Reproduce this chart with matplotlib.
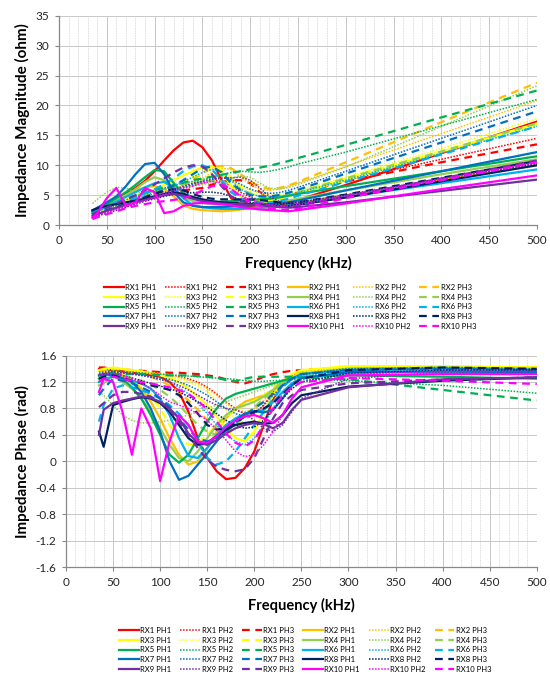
import numpy as np
import matplotlib
matplotlib.use('Agg')
import matplotlib.pyplot as plt
from matplotlib.ticker import MultipleLocator

plt.rcParams['font.family'] = ['Lato', 'DejaVu Sans']

# frequency points (kHz), shared by every series
freq = [35, 40, 50, 60, 70, 80, 90, 100, 110, 120, 130, 140, 150, 160, 170,
        180, 190, 200, 210, 220, 230, 240, 250, 300, 400, 500]

rx_names = ['RX1', 'RX2', 'RX3', 'RX4', 'RX5', 'RX6', 'RX7', 'RX8', 'RX9', 'RX10']
ph_names = ['PH1', 'PH2', 'PH3']
rx_colors = ['#FF0000', '#FFC000', '#FFFF00', '#92D050', '#00B050',
             '#00B0F0', '#0070C0', '#002060', '#7030A0', '#FF00FF']

# impedance magnitude (ohm), one list per RX/PH
mag = {
    'RX1 PH1': [2.3, 2.6, 3.5, 4.5, 5.2, 6.2, 7.4, 9.0, 10.8, 12.5, 13.8, 14.1, 13.0, 10.8, 7.5, 4.5, 3.3, 3.0, 2.9, 3.0, 3.2, 3.6, 4.2, 6.7, 12.0, 17.3],
    'RX1 PH2': [1.8, 2.1, 2.7, 3.2, 3.7, 4.2, 4.7, 5.2, 5.6, 6.0, 6.3, 6.6, 7.0, 7.5, 7.3, 6.5, 5.5, 4.7, 4.2, 4.0, 4.3, 4.8, 5.3, 7.5, 11.0, 14.5],
    'RX1 PH3': [1.7, 2.0, 2.5, 3.0, 3.5, 4.0, 4.4, 4.8, 5.2, 5.5, 5.8, 6.0, 6.2, 6.8, 7.2, 7.5, 7.5, 7.0, 5.5, 4.5, 4.5, 5.0, 5.4, 7.3, 10.5, 13.5],
    'RX2 PH1': [2.0, 2.4, 3.3, 4.2, 5.0, 5.8, 6.3, 6.5, 6.0, 4.8, 3.3, 2.7, 2.5, 2.4, 2.3, 2.4, 2.6, 2.8, 2.9, 3.0, 3.1, 3.3, 3.6, 5.0, 7.5, 10.0],
    'RX2 PH2': [1.6, 1.9, 2.4, 2.9, 3.4, 3.9, 4.4, 4.9, 5.4, 5.9, 6.4, 7.0, 7.8, 8.8, 9.5, 9.3, 8.0, 6.8, 6.0, 5.8, 6.0, 6.5, 7.0, 9.8, 15.3, 20.8],
    'RX2 PH3': [1.7, 2.0, 2.6, 3.1, 3.6, 4.1, 4.6, 5.1, 5.6, 6.2, 6.8, 7.6, 8.6, 9.6, 9.9, 9.5, 8.5, 7.3, 6.5, 6.0, 6.2, 6.6, 7.2, 10.5, 17.2, 23.8],
    'RX3 PH1': [1.8, 2.2, 2.9, 3.6, 4.2, 4.8, 5.4, 6.0, 6.7, 7.5, 8.3, 9.0, 9.6, 9.8, 9.0, 6.5, 4.8, 4.2, 4.0, 4.0, 4.3, 4.8, 5.3, 7.5, 12.2, 17.0],
    'RX3 PH2': [1.6, 1.9, 2.5, 3.0, 3.5, 4.0, 4.5, 5.0, 5.5, 6.0, 6.6, 7.2, 7.8, 8.3, 8.3, 7.5, 6.5, 5.8, 5.3, 5.0, 5.0, 5.3, 5.8, 8.0, 12.8, 17.8],
    'RX3 PH3': [1.7, 2.0, 2.6, 3.2, 3.7, 4.3, 4.9, 5.5, 6.0, 6.6, 7.3, 8.0, 8.8, 9.5, 9.3, 8.0, 6.3, 5.3, 4.8, 4.6, 4.7, 5.0, 5.5, 7.8, 12.3, 16.8],
    'RX4 PH1': [2.0, 2.4, 3.3, 4.2, 5.0, 6.0, 7.2, 8.0, 7.5, 6.0, 4.7, 4.0, 3.7, 3.5, 3.4, 3.4, 3.5, 3.6, 3.7, 3.8, 3.9, 4.1, 4.4, 5.8, 8.5, 11.0],
    'RX4 PH2': [3.6, 4.3, 5.5, 6.3, 6.2, 5.5, 5.3, 5.6, 6.0, 6.2, 6.3, 6.5, 6.8, 7.0, 7.3, 7.8, 8.2, 8.0, 7.0, 6.2, 6.0, 6.3, 6.8, 9.7, 16.5, 23.3],
    'RX4 PH3': [1.8, 2.1, 2.8, 3.4, 4.0, 4.6, 5.2, 5.8, 6.3, 6.6, 6.8, 7.0, 7.2, 7.4, 7.3, 6.8, 6.0, 5.3, 4.8, 4.6, 4.7, 5.0, 5.5, 7.8, 12.3, 17.0],
    'RX5 PH1': [2.2, 2.6, 3.5, 4.5, 5.5, 6.7, 8.0, 9.2, 9.0, 7.0, 5.3, 4.5, 4.1, 3.9, 3.9, 4.0, 4.1, 4.2, 4.3, 4.4, 4.6, 4.9, 5.2, 6.5, 9.0, 11.5],
    'RX5 PH2': [2.0, 2.4, 3.0, 3.6, 4.2, 4.8, 5.3, 5.8, 6.2, 6.6, 7.0, 7.3, 7.6, 8.0, 8.4, 8.8, 9.0, 8.9, 8.8, 9.0, 9.3, 9.7, 10.2, 12.2, 16.6, 21.0],
    'RX5 PH3': [2.1, 2.5, 3.1, 3.7, 4.3, 4.9, 5.4, 5.9, 6.3, 6.7, 7.1, 7.5, 7.8, 8.1, 8.4, 8.7, 9.0, 9.3, 9.6, 9.9, 10.3, 10.7, 11.2, 13.4, 18.0, 22.5],
    'RX6 PH1': [1.9, 2.3, 3.1, 3.9, 4.7, 5.5, 6.3, 7.0, 7.2, 6.3, 4.5, 3.3, 3.0, 2.8, 2.7, 2.7, 2.7, 2.8, 2.9, 3.0, 3.1, 3.3, 3.5, 4.7, 7.0, 9.3],
    'RX6 PH2': [1.7, 2.0, 2.6, 3.2, 3.8, 4.3, 4.9, 5.5, 6.0, 6.6, 7.3, 8.0, 8.8, 9.3, 9.0, 7.5, 6.0, 5.2, 4.8, 4.7, 4.8, 5.0, 5.4, 7.5, 12.0, 16.5],
    'RX6 PH3': [1.8, 2.1, 2.8, 3.4, 4.0, 4.6, 5.3, 6.0, 6.8, 7.8, 9.0, 9.8, 10.0, 9.3, 7.5, 5.5, 4.5, 4.0, 3.8, 3.8, 4.0, 4.4, 4.9, 7.2, 11.8, 16.5],
    'RX7 PH1': [2.4, 2.9, 3.8, 4.8, 6.5, 8.5, 10.2, 10.4, 8.5, 5.5, 3.8, 3.2, 3.0, 3.0, 3.0, 3.1, 3.2, 3.3, 3.4, 3.5, 3.6, 3.8, 4.1, 5.8, 9.0, 12.2],
    'RX7 PH2': [1.5, 1.8, 2.3, 2.8, 3.3, 3.8, 4.3, 4.8, 5.3, 5.8, 6.3, 6.8, 7.3, 7.8, 8.0, 7.6, 6.8, 6.0, 5.5, 5.3, 5.4, 5.8, 6.3, 9.0, 14.5, 20.0],
    'RX7 PH3': [1.6, 1.9, 2.5, 3.0, 3.6, 4.1, 4.7, 5.3, 5.9, 6.6, 7.5, 8.5, 9.5, 9.8, 8.8, 7.0, 5.8, 5.0, 4.8, 4.8, 5.0, 5.4, 5.9, 8.6, 13.8, 19.0],
    'RX8 PH1': [2.5, 2.8, 3.2, 3.5, 3.8, 4.1, 4.4, 4.8, 5.2, 5.5, 5.2, 4.7, 4.3, 4.0, 3.8, 3.7, 3.6, 3.5, 3.4, 3.3, 3.2, 3.2, 3.4, 4.6, 7.3, 10.0],
    'RX8 PH2': [1.2, 1.5, 2.0, 2.5, 3.0, 3.5, 4.0, 4.4, 4.8, 5.1, 5.3, 5.4, 5.5, 5.5, 5.3, 4.8, 4.2, 3.8, 3.6, 3.5, 3.5, 3.6, 3.8, 5.0, 7.7, 10.3],
    'RX8 PH3': [1.6, 1.9, 2.4, 2.9, 3.5, 4.0, 4.6, 5.2, 5.7, 6.0, 5.8, 5.2, 4.7, 4.4, 4.3, 4.3, 4.3, 4.3, 4.2, 4.0, 3.8, 3.7, 3.8, 5.1, 7.9, 10.7],
    'RX9 PH1': [1.5, 1.8, 2.4, 2.9, 3.4, 3.8, 4.2, 4.6, 5.0, 5.2, 4.9, 4.4, 4.0, 3.8, 3.6, 3.5, 3.5, 3.4, 3.3, 3.2, 3.0, 2.9, 3.0, 3.8, 5.7, 7.6],
    'RX9 PH2': [1.4, 1.7, 2.2, 2.7, 3.2, 3.7, 4.2, 4.8, 5.4, 6.0, 6.5, 7.0, 7.3, 7.6, 7.8, 7.9, 8.0, 7.5, 6.2, 4.8, 4.0, 3.7, 3.8, 5.0, 7.7, 10.5],
    'RX9 PH3': [1.8, 2.2, 2.9, 3.6, 4.3, 5.0, 5.8, 6.8, 7.8, 8.8, 9.6, 10.0, 9.8, 8.5, 6.5, 4.8, 4.0, 3.7, 3.5, 3.3, 3.2, 3.1, 3.2, 4.8, 7.8, 10.8],
    'RX10 PH1': [1.2, 2.0, 4.5, 6.2, 3.2, 3.8, 6.2, 5.5, 2.0, 2.3, 3.2, 3.6, 3.7, 3.6, 3.5, 3.3, 3.0, 2.8, 2.6, 2.5, 2.4, 2.3, 2.5, 3.6, 6.0, 8.3],
    'RX10 PH2': [1.3, 1.6, 2.1, 2.6, 3.1, 3.6, 4.1, 4.6, 5.1, 5.6, 6.1, 6.5, 7.0, 7.3, 7.0, 6.0, 5.0, 4.3, 3.8, 3.4, 3.2, 3.2, 3.4, 4.9, 7.7, 10.5],
    'RX10 PH3': [1.0, 1.3, 1.8, 2.3, 2.8, 3.2, 3.5, 3.8, 4.0, 4.2, 4.5, 5.0, 5.8, 6.5, 6.7, 6.0, 4.8, 3.8, 3.2, 2.8, 2.6, 2.5, 2.7, 4.5, 7.5, 10.5],
}

# impedance phase (rad)
phase = {
    'RX1 PH1': [1.40, 1.40, 1.38, 1.36, 1.34, 1.32, 1.30, 1.28, 1.20, 1.05, 0.75, 0.35, 0.05, -0.15, -0.27, -0.25, -0.10, 0.15, 0.55, 0.95, 1.15, 1.25, 1.32, 1.40, 1.42, 1.40],
    'RX1 PH2': [1.40, 1.40, 1.38, 1.37, 1.35, 1.34, 1.32, 1.31, 1.30, 1.28, 1.25, 1.20, 1.12, 1.02, 0.90, 0.80, 0.72, 0.72, 0.85, 1.05, 1.20, 1.30, 1.36, 1.42, 1.42, 1.41],
    'RX1 PH3': [1.42, 1.42, 1.40, 1.39, 1.38, 1.37, 1.36, 1.35, 1.34, 1.34, 1.33, 1.32, 1.30, 1.28, 1.24, 1.20, 1.18, 1.22, 1.28, 1.32, 1.35, 1.37, 1.38, 1.42, 1.42, 1.40],
    'RX2 PH1': [1.30, 1.33, 1.35, 1.30, 1.22, 1.10, 0.90, 0.65, 0.35, 0.10, -0.05, 0.00, 0.20, 0.45, 0.65, 0.80, 0.90, 0.95, 1.00, 1.08, 1.18, 1.26, 1.32, 1.40, 1.42, 1.42],
    'RX2 PH2': [1.38, 1.39, 1.40, 1.39, 1.38, 1.37, 1.35, 1.33, 1.30, 1.27, 1.23, 1.18, 1.10, 1.00, 0.88, 0.78, 0.75, 0.80, 0.92, 1.05, 1.18, 1.28, 1.34, 1.42, 1.43, 1.42],
    'RX2 PH3': [1.35, 1.38, 1.40, 1.38, 1.35, 1.32, 1.28, 1.22, 1.15, 1.05, 0.92, 0.78, 0.62, 0.50, 0.45, 0.50, 0.62, 0.78, 0.95, 1.10, 1.22, 1.30, 1.35, 1.42, 1.42, 1.40],
    'RX3 PH1': [1.38, 1.40, 1.42, 1.40, 1.38, 1.36, 1.33, 1.30, 1.26, 1.20, 1.10, 0.98, 0.85, 0.68, 0.50, 0.35, 0.30, 0.45, 0.75, 1.00, 1.20, 1.32, 1.38, 1.44, 1.44, 1.42],
    'RX3 PH2': [1.38, 1.39, 1.40, 1.39, 1.38, 1.36, 1.34, 1.31, 1.28, 1.24, 1.20, 1.14, 1.05, 0.92, 0.78, 0.65, 0.58, 0.62, 0.78, 0.98, 1.15, 1.28, 1.35, 1.43, 1.44, 1.42],
    'RX3 PH3': [1.30, 1.33, 1.36, 1.32, 1.25, 1.15, 1.00, 0.80, 0.55, 0.35, 0.25, 0.28, 0.40, 0.55, 0.68, 0.78, 0.85, 0.92, 1.00, 1.10, 1.20, 1.28, 1.33, 1.40, 1.42, 1.41],
    'RX4 PH1': [1.15, 1.18, 1.30, 1.20, 1.10, 0.95, 0.75, 0.50, 0.25, 0.05, 0.00, 0.15, 0.35, 0.55, 0.70, 0.80, 0.85, 0.90, 0.98, 1.08, 1.18, 1.26, 1.32, 1.40, 1.40, 1.38],
    'RX4 PH2': [1.05, 1.00, 0.85, 0.70, 0.62, 0.58, 0.58, 0.60, 0.62, 0.66, 0.70, 0.75, 0.80, 0.85, 0.90, 0.95, 1.00, 1.05, 1.10, 1.15, 1.20, 1.25, 1.30, 1.38, 1.40, 1.38],
    'RX4 PH3': [1.25, 1.28, 1.32, 1.30, 1.26, 1.22, 1.16, 1.08, 0.98, 0.85, 0.70, 0.55, 0.45, 0.40, 0.45, 0.55, 0.68, 0.82, 0.95, 1.08, 1.20, 1.28, 1.33, 1.40, 1.42, 1.40],
    'RX5 PH1': [1.25, 1.30, 1.35, 1.25, 1.12, 0.95, 0.70, 0.40, 0.10, -0.02, 0.10, 0.35, 0.60, 0.80, 0.95, 1.02, 1.06, 1.10, 1.14, 1.18, 1.22, 1.26, 1.28, 1.30, 1.28, 1.25],
    'RX5 PH2': [1.35, 1.36, 1.37, 1.36, 1.35, 1.34, 1.33, 1.32, 1.31, 1.30, 1.29, 1.28, 1.27, 1.26, 1.25, 1.24, 1.22, 1.21, 1.21, 1.22, 1.23, 1.24, 1.24, 1.22, 1.15, 1.03],
    'RX5 PH3': [1.30, 1.31, 1.32, 1.32, 1.32, 1.32, 1.31, 1.31, 1.30, 1.30, 1.30, 1.29, 1.28, 1.26, 1.23, 1.21, 1.25, 1.28, 1.28, 1.28, 1.28, 1.28, 1.27, 1.24, 1.08, 0.92],
    'RX6 PH1': [1.20, 1.25, 1.28, 1.25, 1.22, 1.18, 1.10, 0.95, 0.70, 0.35, 0.08, 0.05, 0.20, 0.40, 0.55, 0.65, 0.72, 0.75, 0.78, 0.90, 1.05, 1.18, 1.26, 1.34, 1.36, 1.35],
    'RX6 PH2': [1.30, 1.32, 1.34, 1.33, 1.32, 1.30, 1.28, 1.25, 1.20, 1.12, 1.02, 0.88, 0.72, 0.55, 0.40, 0.30, 0.25, 0.35, 0.55, 0.80, 1.02, 1.18, 1.28, 1.38, 1.40, 1.38],
    'RX6 PH3': [0.60, 0.85, 1.10, 1.15, 1.12, 1.08, 1.02, 0.95, 0.85, 0.72, 0.55, 0.30, 0.05, -0.05, 0.00, 0.15, 0.35, 0.55, 0.75, 0.95, 1.12, 1.25, 1.32, 1.38, 1.40, 1.38],
    'RX7 PH1': [1.30, 1.32, 1.30, 1.26, 1.20, 1.05, 0.80, 0.45, 0.00, -0.28, -0.22, -0.05, 0.12, 0.30, 0.48, 0.62, 0.72, 0.76, 0.74, 0.78, 0.95, 1.15, 1.26, 1.35, 1.36, 1.35],
    'RX7 PH2': [1.32, 1.34, 1.35, 1.34, 1.33, 1.31, 1.29, 1.27, 1.24, 1.20, 1.15, 1.08, 1.00, 0.90, 0.80, 0.72, 0.68, 0.72, 0.85, 1.00, 1.15, 1.25, 1.32, 1.40, 1.42, 1.40],
    'RX7 PH3': [1.00, 1.10, 1.25, 1.22, 1.18, 1.12, 1.05, 0.95, 0.82, 0.65, 0.48, 0.35, 0.30, 0.35, 0.45, 0.58, 0.70, 0.80, 0.90, 1.02, 1.15, 1.25, 1.32, 1.38, 1.40, 1.38],
    'RX8 PH1': [0.45, 0.22, 0.85, 0.90, 0.94, 0.97, 0.95, 0.88, 0.75, 0.55, 0.35, 0.25, 0.28, 0.38, 0.48, 0.55, 0.58, 0.60, 0.57, 0.58, 0.70, 0.88, 1.00, 1.13, 1.22, 1.27],
    'RX8 PH2': [1.30, 1.32, 1.33, 1.30, 1.26, 1.22, 1.18, 1.14, 1.10, 1.05, 0.98, 0.90, 0.82, 0.72, 0.62, 0.55, 0.50, 0.52, 0.62, 0.78, 0.95, 1.10, 1.20, 1.33, 1.38, 1.38],
    'RX8 PH3': [1.25, 1.28, 1.30, 1.26, 1.22, 1.18, 1.15, 1.12, 1.08, 1.00, 0.88, 0.72, 0.55, 0.48, 0.50, 0.58, 0.68, 0.75, 0.80, 0.88, 1.02, 1.15, 1.25, 1.38, 1.42, 1.40],
    'RX9 PH1': [0.40, 0.78, 0.88, 0.92, 0.95, 0.98, 0.96, 0.90, 0.80, 0.65, 0.42, 0.28, 0.25, 0.32, 0.42, 0.50, 0.55, 0.58, 0.56, 0.50, 0.58, 0.78, 0.93, 1.12, 1.24, 1.27],
    'RX9 PH2': [1.32, 1.34, 1.36, 1.34, 1.32, 1.30, 1.27, 1.24, 1.20, 1.15, 1.08, 1.00, 0.92, 0.85, 0.80, 0.78, 0.72, 0.62, 0.50, 0.45, 0.55, 0.75, 0.95, 1.25, 1.35, 1.36],
    'RX9 PH3': [0.82, 0.88, 1.00, 1.05, 1.05, 1.02, 0.98, 0.90, 0.78, 0.60, 0.40, 0.20, 0.02, -0.08, -0.13, -0.15, -0.12, 0.05, 0.35, 0.65, 0.88, 1.00, 1.08, 1.18, 1.24, 1.27],
    'RX10 PH1': [1.05, 1.25, 1.20, 0.75, 0.10, 0.80, 0.50, -0.30, 0.30, 0.70, 0.55, 0.30, 0.28, 0.38, 0.52, 0.62, 0.68, 0.70, 0.65, 0.58, 0.70, 0.95, 1.12, 1.30, 1.32, 1.32],
    'RX10 PH2': [1.30, 1.32, 1.33, 1.30, 1.25, 1.18, 1.10, 1.00, 0.90, 0.85, 0.80, 0.72, 0.62, 0.48, 0.32, 0.15, 0.07, 0.10, 0.25, 0.45, 0.70, 0.95, 1.12, 1.32, 1.36, 1.36],
    'RX10 PH3': [1.20, 1.25, 1.28, 1.25, 1.22, 1.20, 1.18, 1.15, 1.12, 1.08, 1.02, 0.92, 0.78, 0.60, 0.42, 0.28, 0.22, 0.32, 0.55, 0.80, 1.00, 1.12, 1.20, 1.26, 1.22, 1.17],
}

# line style per phase: solid, dotted, dashed
ph_style = {
    'PH1': dict(linestyle='-', linewidth=1.6),
    'PH2': dict(linestyle=(0, (1, 1)), linewidth=1.1),
    'PH3': dict(linestyle=(0, (3.5, 2.5)), linewidth=1.6),
}


def draw_panel(ax, data, ylim, ystep, ylabel):
    handles = []
    labels = []
    for rx, col in zip(rx_names, rx_colors):
        for ph in ph_names:
            name = rx + ' ' + ph
            ln, = ax.plot(freq, data[name], color=col, label=name,
                          solid_joinstyle='round', **ph_style[ph])
            handles.append(ln)
            labels.append(name)
    ax.set_xlim(0, 500)
    ax.set_ylim(*ylim)
    ax.xaxis.set_major_locator(MultipleLocator(50))
    ax.xaxis.set_minor_locator(MultipleLocator(10))
    ax.yaxis.set_major_locator(MultipleLocator(ystep))
    ax.grid(which='major', color='#c8c8c8', linewidth=0.7)
    ax.grid(which='minor', axis='x', color='#d0d0d0', linewidth=0.6, linestyle=(0, (1, 1)))
    ax.set_axisbelow(True)
    for s in ['top', 'right']:
        ax.spines[s].set_visible(False)
    for s in ['left', 'bottom']:
        ax.spines[s].set_color('#888888')
        ax.spines[s].set_linewidth(0.9)
    ax.tick_params(which='major', length=3, color='#888888', labelsize=8.5,
                   labelcolor='#262626', pad=4)
    ax.tick_params(which='minor', length=0)
    ax.set_ylabel(ylabel, fontsize=11, fontweight='bold', labelpad=4)
    ax.set_xlabel('Frequency (kHz)', fontsize=10.5, fontweight='bold', labelpad=7)
    # legend reads across rows: reorder for matplotlib's column fill
    order = [r * 6 + c for c in range(6) for r in range(5)]
    return [handles[i] for i in order], [labels[i] for i in order]


fig = plt.figure(figsize=(5.5, 6.82), dpi=100)
ax1 = fig.add_axes([0.1073, 0.670, 0.869, 0.307])
ax2 = fig.add_axes([0.120, 0.1686, 0.856, 0.310])

h, l = draw_panel(ax1, mag, (0, 35), 5, 'Impedance Magnitude (ohm)')
fig.legend(h, l, loc='center', bbox_to_anchor=(0.527, 0.55), ncol=6,
           fontsize=5.5, frameon=False, handlelength=2.6, handletextpad=0.2,
           columnspacing=1.15, labelspacing=0.35, borderpad=0)

h, l = draw_panel(ax2, phase, (-1.6, 1.6), 0.4, 'Impedance Phase (rad)')
ax2.yaxis.set_major_formatter(matplotlib.ticker.FuncFormatter(lambda v, p: '%g' % round(v, 1)))
fig.legend(h, l, loc='center', bbox_to_anchor=(0.555, 0.047), ncol=6,
           fontsize=5.5, frameon=False, handlelength=2.6, handletextpad=0.2,
           columnspacing=1.15, labelspacing=0.35, borderpad=0)

fig.savefig('out.png', dpi=100)
